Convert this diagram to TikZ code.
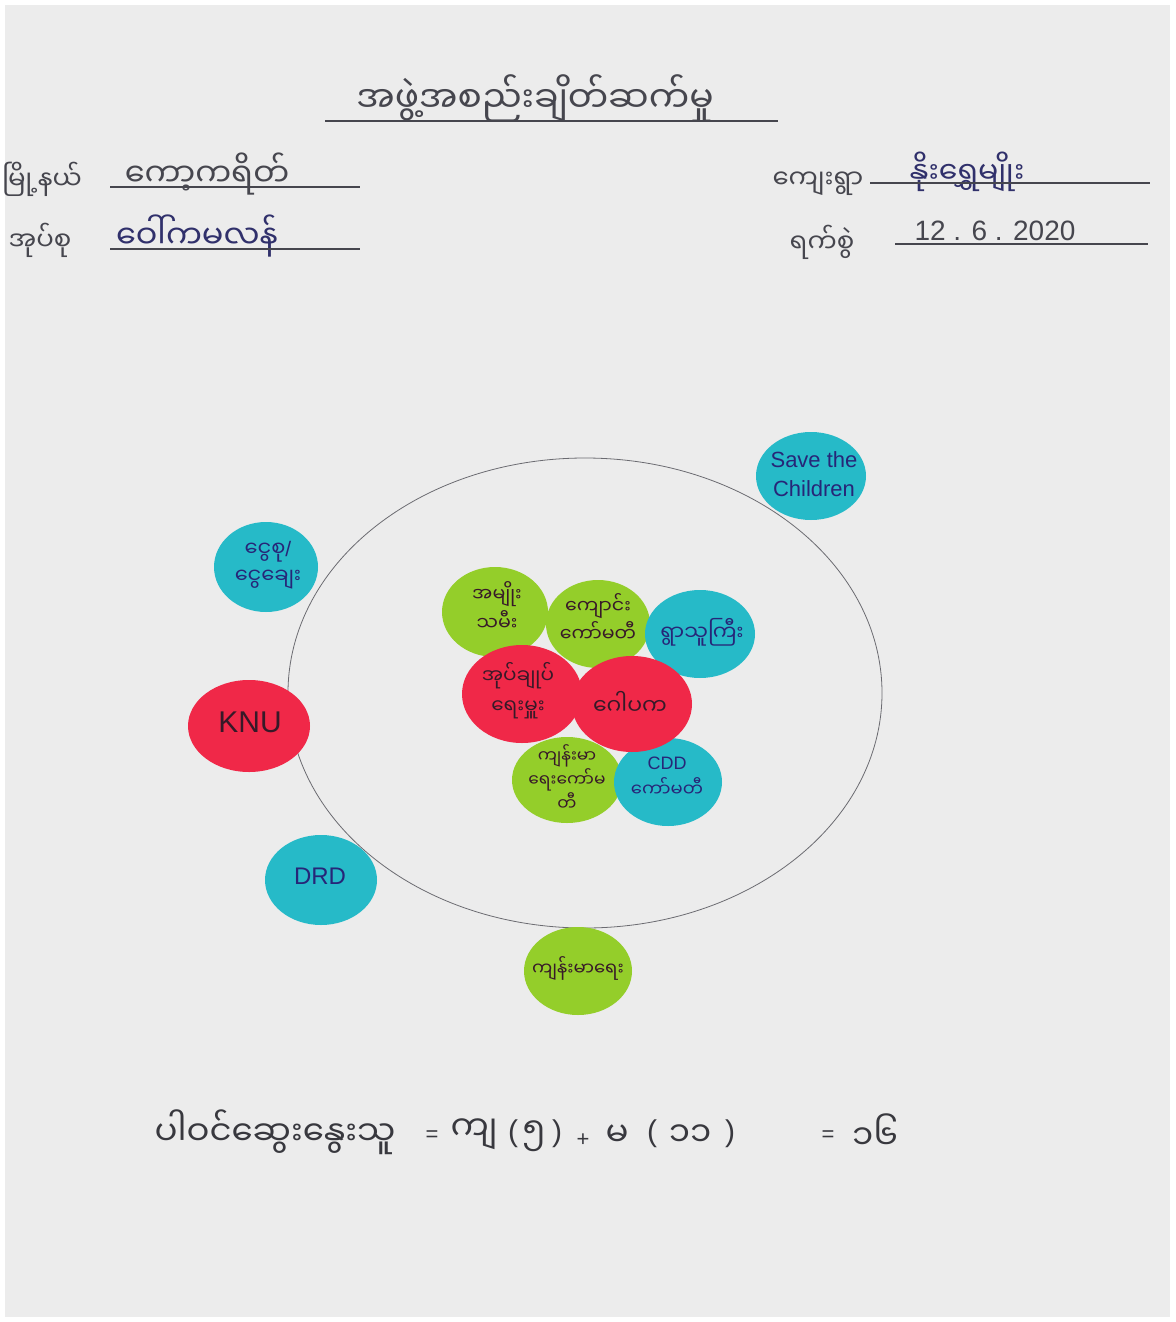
\documentclass[tikz,border=0pt]{standalone}
\usepackage{fontspec}
\usetikzlibrary{shapes.geometric}
\newfontfamily\my[Script=Myanmar]{Noto Sans Myanmar UI}
\newfontfamily\lat{Liberation Sans}
\definecolor{paper}{RGB}{236,236,236}
\definecolor{cgreen}{RGB}{148,206,42}
\definecolor{cteal}{RGB}{38,186,200}
\definecolor{cred}{RGB}{240,40,72}
\definecolor{ink}{RGB}{38,38,120}
\definecolor{darkink}{RGB}{55,25,40}
\definecolor{pencil}{RGB}{70,70,78}
\newcommand{\fs}[2]{\fontsize{#1}{#2}\selectfont}
\begin{document}
\begin{tikzpicture}[x=1pt,y=-1pt,
  dotbase/.style={ellipse, inner sep=0pt},
  gdot/.style={dotbase, fill=cgreen},
  tdot/.style={dotbase, fill=cteal},
  rdot/.style={dotbase, fill=cred},
  dtext/.style={inner sep=0pt, align=center, text=ink},
  darktext/.style={dtext, text=darkink},
  hdr/.style={font=\my\fs{26}{30}, text=pencil, inner sep=1pt},
  val/.style={hdr, text=ink!70!pencil},
  bot/.style={font=\my\fs{34}{38}, text=pencil!80!black, inner sep=1pt},
  botlat/.style={bot, font=\lat\fs{30}{34}},
  uline/.style={draw=pencil, line width=1.2pt},
  ringstyle/.style={draw=pencil!80, line width=0.8pt, ellipse, inner sep=0pt},
]
\useasboundingbox (0,0) rectangle (1175,1322);
\fill[white] (0,0) rectangle (1175,1322);
\fill[paper] (5,5) rectangle (1170,1317);

% header
\node[hdr, font=\my\fs{36}{40}] (title) at (535,98) {အဖွဲ့အစည်းချိတ်ဆက်မှု};
\draw[uline] (325,121) -- (778,121);
\node[hdr] (twnL) at (42,179) {မြို့နယ်};
\node[hdr, font=\my\fs{32}{36}] (twnV) at (207,174) {ကော့ကရိတ်};
\draw[uline] (110,187) -- (360,187);
\node[hdr] (vtL) at (40,240) {အုပ်စု};
\node[val, font=\my\fs{32}{36}] (vtV) at (197,236) {ဝေါ်ကမလန်};
\draw[uline] (110,249) -- (360,249);
\node[hdr] (vilL) at (818,184) {ကျေးရွာ};
\node[val, font=\my\fs{30}{34}] (vilV) at (967,172) {နိုးရွှေမျိုး};
\draw[uline] (870,183) -- (1150,183);
\node[hdr] (dateL) at (822,242) {ရက်စွဲ};
\node[hdr, font=\lat\fs{28}{32}] (dateV) at (995,231) {12 . 6 . 2020};
\draw[uline] (895,244) -- (1148,244);

% ring
\node[ringstyle, minimum width=594, minimum height=470] (ring) at (585,693) {};

% outer circles
\node[tdot, minimum width=104, minimum height=90] (savings) at (266,567) {};
\node[dtext, font=\my\fs{21}{27}] (savingsT) at (268,565) {ငွေစု{\lat/}\\ငွေချေး};
\node[rdot, minimum width=122, minimum height=92] (knu) at (249,726) {};
\node[darktext, font=\lat\fs{30}{34}] (knuT) at (250,722) {KNU};
\node[tdot, minimum width=112, minimum height=90] (drd) at (321,880) {};
\node[dtext, font=\lat\fs{24}{28}] (drdT) at (320,876) {DRD};
\node[gdot, minimum width=108, minimum height=88] (health) at (578,971) {};
\node[darktext, font=\my\fs{18}{22}] (healthT) at (578,968) {ကျန်းမာရေး};
\node[tdot, minimum width=110, minimum height=88] (stc) at (811,476) {};
\node[dtext, font=\lat\fs{22}{29}] (stcT) at (814,474) {Save the\\Children};

% inner circles
\node[gdot, minimum width=104, minimum height=88] (school) at (598,624) {};
\node[gdot, minimum width=106, minimum height=90] (women) at (495,612) {};
\node[tdot, minimum width=110, minimum height=88] (head) at (700,634) {};
\node[gdot, minimum width=110, minimum height=86] (hcomm) at (567,780) {};
\node[tdot, minimum width=108, minimum height=88] (cdd) at (668,782) {};
\node[rdot, minimum width=120, minimum height=98] (admin) at (522,694) {};
\node[rdot, minimum width=120, minimum height=96] (gawpaka) at (632,704) {};

\node[darktext, font=\my\fs{19}{29}] (womenT) at (497,606) {အမျိုး\\သမီး};
\node[darktext, font=\my\fs{19}{28}] (schoolT) at (598,618) {ကျောင်း\\ကော်မတီ};
\node[dtext, font=\my\fs{21}{25}] (headT) at (702,632) {ရွာသူကြီး};
\node[darktext, font=\my\fs{17}{24}] (hcommT) at (567,778) {ကျန်းမာ\\ရေးကော်မ\\တီ};
\node[dtext, font=\my\fs{18}{27}] (cddT) at (667,777) {{\lat CDD}\\ကော်မတီ};
\node[darktext, font=\my\fs{20}{30}] (adminT) at (518,691) {အုပ်ချုပ်\\ရေးမှူး};
\node[darktext, font=\my\fs{22}{26}] (gawpakaT) at (630,703) {ဂေါပက};

% bottom line
\node[bot] (part) at (275,1132) {ပါဝင်ဆွေးနွေးသူ};
\node[botlat, font=\lat\fs{22}{26}] (eq1) at (432,1136) {=};
\node[bot] (male) at (474,1134) {ကျ};
\node[botlat] (m5a) at (513,1134) {(};
\node[bot] (m5) at (534,1136) {၅};
\node[botlat] (m5b) at (557,1134) {)};
\node[botlat, font=\lat\fs{22}{26}] (plus) at (583,1140) {+};
\node[bot] (fem) at (617,1136) {မ};
\node[botlat] (f11a) at (652,1134) {(};
\node[bot] (f11) at (690,1136) {၁၁};
\node[botlat] (f11b) at (730,1134) {)};
\node[botlat, font=\lat\fs{22}{26}] (eq2) at (828,1136) {=};
\node[bot] (tot) at (875,1132) {၁၆};
\end{tikzpicture}
\end{document}
